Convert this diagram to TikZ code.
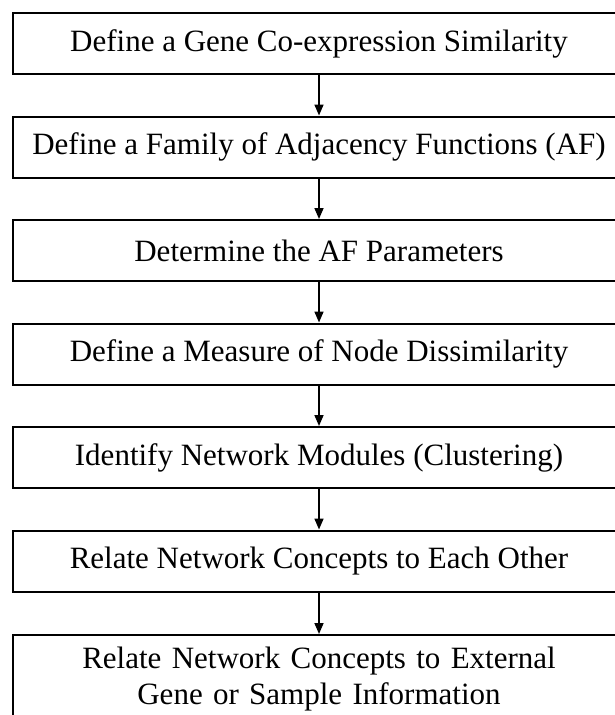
\documentclass[tikz,border=0pt]{standalone}
\usepackage{fontspec}
\setmainfont{Liberation Serif}
\usetikzlibrary{arrows.meta}
\begin{document}
\begin{tikzpicture}[x=1pt,y=-1pt,
  stepbox/.style={draw=black, line width=2.4pt, minimum width=612pt, minimum height=61pt,
    inner sep=0pt, font=\fontsize{31}{36}\selectfont, anchor=north},
  lastbox/.style={draw=black, line width=2.4pt, text width=600pt, align=center,
    minimum width=612pt, inner xsep=6pt, inner ysep=12pt,
    font=\fontsize{31}{36}\selectfont, anchor=north},
  conn/.style={line width=1.6pt, -{Triangle[width=9pt,length=11pt]}}]
\useasboundingbox (0,0) rectangle (615,715);
\clip (0,0) rectangle (615,715);
\node[stepbox] (b1) at (319,12) {Define a Gene Co-expression Similarity};
\node[stepbox] (b2) at (319,115.5) {Define a Family of Adjacency Functions (AF)};
\node[stepbox] (b3) at (319,219) {Determine the AF Parameters};
\node[stepbox] (b4) at (319,322.5) {Define a Measure of Node Dissimilarity};
\node[stepbox] (b5) at (319,426) {Identify Network Modules (Clustering)};
\node[stepbox] (b6) at (319,529.5) {Relate Network Concepts to Each Other};
\node[lastbox] (b7) at (319,634) {Relate Network Concepts to External\\Gene or Sample Information};
\draw[conn] (b1) -- (b2);
\draw[conn] (b2) -- (b3);
\draw[conn] (b3) -- (b4);
\draw[conn] (b4) -- (b5);
\draw[conn] (b5) -- (b6);
\draw[conn] (b6) -- (b7);
\end{tikzpicture}
\end{document}
